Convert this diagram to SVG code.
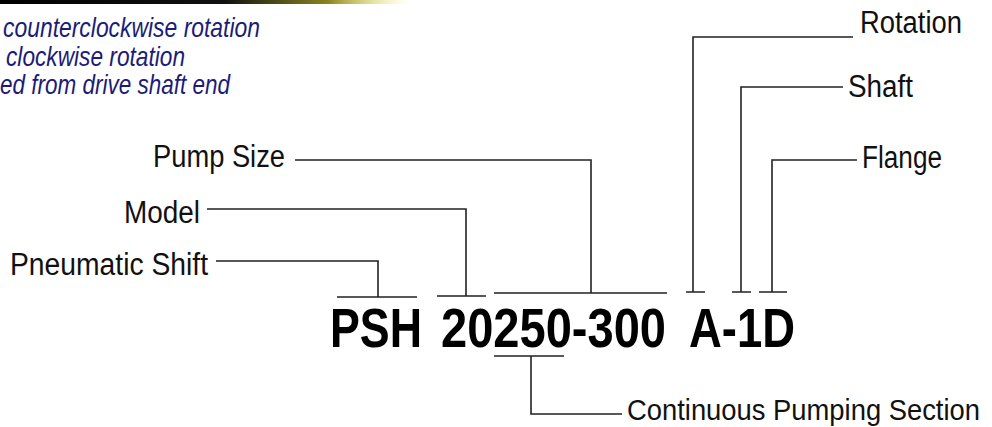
<svg xmlns="http://www.w3.org/2000/svg" width="992" height="427" viewBox="0 0 992 427">
<defs>
<linearGradient id="bar" x1="0" y1="0" x2="1" y2="0">
<stop offset="0" stop-color="#000"/>
<stop offset="0.55" stop-color="#111"/>
<stop offset="0.8" stop-color="#8a8420"/>
<stop offset="1" stop-color="#f2ec3a" stop-opacity="0"/>
</linearGradient>
<style>
.lbl{font-family:"Liberation Sans",Arial,sans-serif;font-size:31px;fill:#111}
.note{font-family:"Liberation Sans",Arial,sans-serif;font-size:28px;font-style:italic;fill:#1c1c78}
.code{font-family:"Liberation Sans",Arial,sans-serif;font-size:56px;font-weight:bold;fill:#000}
.ln{fill:none;stroke:#222;stroke-width:1.6}
</style>
</defs>
<rect width="992" height="427" fill="#fff"/>
<rect x="0" y="0" width="410" height="4" fill="url(#bar)"/>
<g id="notes">
<text class="note" x="3" y="37" textLength="257" lengthAdjust="spacingAndGlyphs">counterclockwise rotation</text>
<text class="note" x="6" y="66" textLength="179" lengthAdjust="spacingAndGlyphs">clockwise rotation</text>
<text class="note" x="0" y="94" textLength="230" lengthAdjust="spacingAndGlyphs">ed from drive shaft end</text>
</g>
<g id="code">
<text class="code" x="330" y="347" textLength="92" lengthAdjust="spacingAndGlyphs">PSH</text>
<text class="code" x="441" y="347" textLength="225" lengthAdjust="spacingAndGlyphs">20250-300</text>
<text class="code" x="689" y="347" textLength="106" lengthAdjust="spacingAndGlyphs">A-1D</text>
</g>
<g id="pneumatic-shift"><text class="lbl" x="10" y="275" textLength="198" lengthAdjust="spacingAndGlyphs">Pneumatic Shift</text></g>
<g id="model"><text class="lbl" x="124" y="223" textLength="76" lengthAdjust="spacingAndGlyphs">Model</text></g>
<g id="pump-size"><text class="lbl" x="153" y="167" textLength="132" lengthAdjust="spacingAndGlyphs">Pump Size</text></g>
<g id="rotation"><text class="lbl" x="860" y="33" textLength="102" lengthAdjust="spacingAndGlyphs">Rotation</text></g>
<g id="shaft"><text class="lbl" x="848" y="97" textLength="65" lengthAdjust="spacingAndGlyphs">Shaft</text></g>
<g id="flange"><text class="lbl" x="862" y="168" textLength="80" lengthAdjust="spacingAndGlyphs">Flange</text></g>
<g id="continuous"><text class="lbl" x="627" y="420" style="font-size:29px" textLength="353" lengthAdjust="spacingAndGlyphs">Continuous Pumping Section</text></g>
<g id="connectors">
<path class="ln" d="M216 261H378V297M337 297H417"/>
<path class="ln" d="M207 209H466V296M437 296H486"/>
<path class="ln" d="M295 160H591V293M494 293H667"/>
<path class="ln" d="M853 37H693V292M686 292H705"/>
<path class="ln" d="M843 87H741V292M732 292H751"/>
<path class="ln" d="M857 160H772V292M759 292H787"/>
<path class="ln" d="M494 356H564M531 356V414H622"/>
</g>
</svg>
